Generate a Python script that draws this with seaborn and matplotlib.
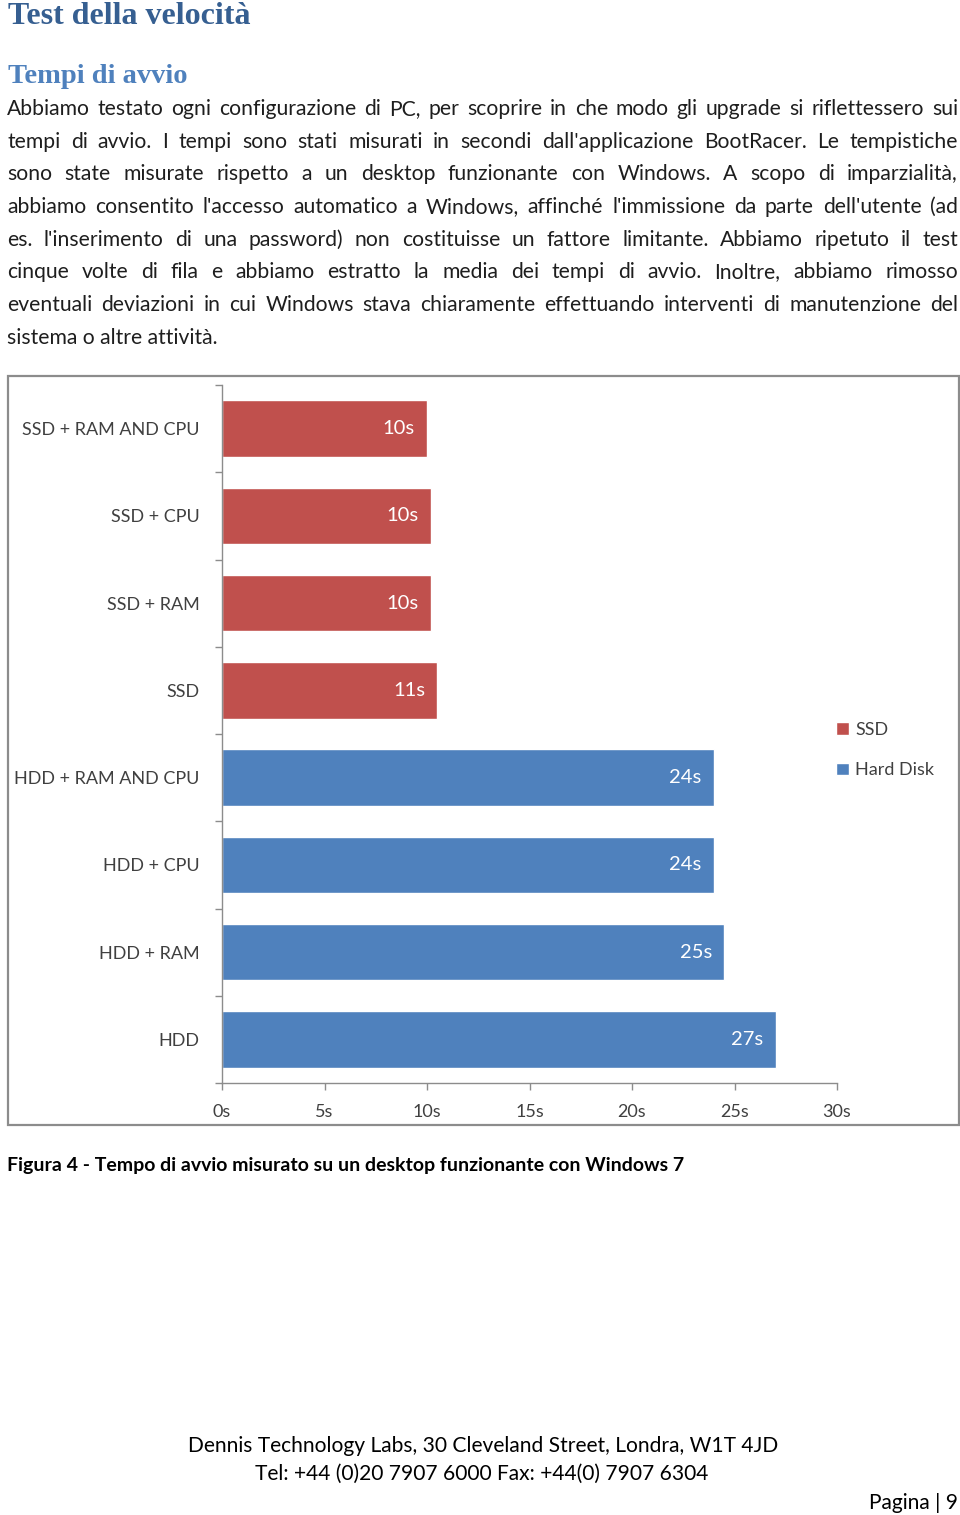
import matplotlib
matplotlib.use("Agg")
import matplotlib.pyplot as plt
from matplotlib.patches import Rectangle
from matplotlib.ticker import FixedLocator
import pandas as pd
import seaborn as sns

#####################
### Data
#####################

configs = ["SSD + RAM AND CPU", "SSD + CPU", "SSD + RAM", "SSD",
           "HDD + RAM AND CPU", "HDD + CPU", "HDD + RAM", "HDD"]
boot_times = [10.0, 10.2, 10.2, 10.5, 24.0, 24.0, 24.5, 27.0]
time_labels = ["10s", "10s", "10s", "11s", "24s", "24s", "25s", "27s"]
disk_type = ["SSD", "SSD", "SSD", "SSD",
             "Hard Disk", "Hard Disk", "Hard Disk", "Hard Disk"]
x_ticks = [0, 5, 10, 15, 20, 25, 30]
x_tick_labels = ["0s", "5s", "10s", "15s", "20s", "25s", "30s"]

title = "Test della velocità"
subtitle = "Tempi di avvio"
body_lines = [
    "Abbiamo testato ogni configurazione di PC, per scoprire in che modo gli upgrade si riflettessero sui",
    "tempi di avvio. I tempi sono stati misurati in secondi dall'applicazione BootRacer. Le tempistiche",
    "sono state misurate rispetto a un desktop funzionante con Windows. A scopo di imparzialità,",
    "abbiamo consentito l'accesso automatico a Windows, affinché l'immissione da parte dell'utente (ad",
    "es. l'inserimento di una password) non costituisse un fattore limitante. Abbiamo ripetuto il test",
    "cinque volte di fila e abbiamo estratto la media dei tempi di avvio. Inoltre, abbiamo rimosso",
    "eventuali deviazioni in cui Windows stava chiaramente effettuando interventi di manutenzione del",
    "sistema o altre attività.",
]
caption = "Figura 4 - Tempo di avvio misurato su un desktop funzionante con Windows 7"
footer1 = "Dennis Technology Labs, 30 Cleveland Street, Londra, W1T 4JD"
footer2 = "Tel: +44 (0)20 7907 6000 Fax: +44(0) 7907 6304"
page_no = "Pagina | 9"

df = pd.DataFrame({"config": configs, "time": boot_times, "disk": disk_type})

#####################
### Page setup
#####################

W, H = 960, 1515
sns.set_style("white")
plt.rcParams["font.family"] = ["Lato", "DejaVu Sans"]

fig = plt.figure(figsize=(W / 100, H / 100), dpi=100)
renderer = fig.canvas.get_renderer()


def fx(x):
    return x / W


def fy(y):
    return 1 - y / H


text_col = "#1e1e1e"

fig.text(fx(8), fy(24), title, family="Liberation Serif", weight="bold",
         fontsize=23, color="#365F91", va="baseline")
fig.text(fx(8), fy(83), subtitle, family="Liberation Serif", weight="bold",
         fontsize=20.5, color="#4F81BD", va="baseline")

# justified body text
left, right = 7, 958
body_size = 15.2
for i, line in enumerate(body_lines):
    yb = 115 + i * 32.7
    words = line.split(" ")
    if i == len(body_lines) - 1:
        fig.text(fx(left), fy(yb), line, fontsize=body_size, color=text_col, va="baseline")
        continue
    objs = [fig.text(0, fy(yb), w, fontsize=body_size, color=text_col, va="baseline")
            for w in words]
    widths = [o.get_window_extent(renderer).width for o in objs]
    gap = (right - left - sum(widths)) / (len(words) - 1)
    x = left
    for o, w in zip(objs, widths):
        o.set_x(fx(x))
        x += w + gap

# chart frame
fig.patches.append(Rectangle((fx(8), fy(1125)), 951 / W, 749 / H, transform=fig.transFigure,
                             fill=False, edgecolor="#8c8c8c", lw=1.6))

#####################
### Bar chart
#####################

ax = fig.add_axes([fx(222), fy(1083), (837 - 222) / W, (1083 - 385) / H])
sns.barplot(data=df, x="time", y="config", hue="disk", orient="h", dodge=False,
            palette={"SSD": "#C0504D", "Hard Disk": "#4F81BD"}, saturation=1,
            width=0.65, errorbar=None, ax=ax)

for i, (v, lab) in enumerate(zip(boot_times, time_labels)):
    ax.text(v - 0.6, i, lab, color="white", fontsize=14.5, ha="right", va="center")

ax.set_xlim(0, 30)
ax.set_ylim(len(configs) - 0.5, -0.5)
ax.set_xticks(x_ticks)
ax.set_xticklabels(x_tick_labels)
ax.set_xlabel("")
ax.set_ylabel("")

ax.yaxis.set_minor_locator(FixedLocator([k - 0.5 for k in range(len(configs) + 1)]))
ax.tick_params(axis="y", which="major", length=0, pad=16, labelsize=13, labelcolor="#404040")
ax.tick_params(axis="y", which="minor", left=True, length=5, width=1, color="#8c8c8c")
ax.tick_params(axis="x", which="major", bottom=True, length=5, width=1, color="#8c8c8c",
               pad=10, labelsize=13, labelcolor="#404040")

sns.despine(ax=ax, top=True, right=True)
for s in ["left", "bottom"]:
    ax.spines[s].set_color("#8c8c8c")
    ax.spines[s].set_linewidth(1)

handles, labels = ax.get_legend_handles_labels()
ax.legend_.remove()
fig.legend(handles, labels, loc="center left", bbox_to_anchor=(fx(820), fy(750)),
           frameon=False, fontsize=13, labelcolor="#404040", handlelength=0.7,
           handleheight=0.7, handletextpad=0.35, labelspacing=1.35)

#####################
### Caption and footer
#####################

fig.text(fx(7), fy(1171), caption, fontsize=14, weight="bold", color="black", va="baseline")
fig.text(fx(483), fy(1452), footer1, fontsize=15.1, color="black", ha="center", va="baseline")
fig.text(fx(482), fy(1480), footer2, fontsize=15.1, color="black", ha="center", va="baseline")
fig.text(fx(958), fy(1509), page_no, fontsize=15.1, color="black", ha="right", va="baseline")

fig.savefig("out.png", dpi=100)
